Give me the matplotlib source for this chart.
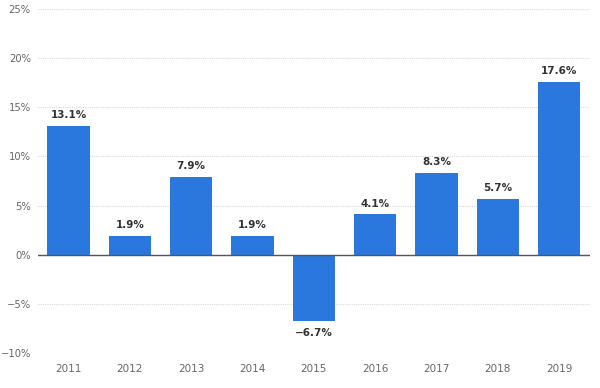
import matplotlib
matplotlib.use("Agg")
import matplotlib.pyplot as plt
from matplotlib.ticker import FuncFormatter

years = ["2011", "2012", "2013", "2014", "2015", "2016", "2017", "2018", "2019"]
growth = [13.1, 1.9, 7.9, 1.9, -6.7, 4.1, 8.3, 5.7, 17.6]

fig = plt.figure(figsize=(6, 3.88), dpi=100)
ax = fig.add_axes([0.063, 0.09, 0.92, 0.887])

x = range(len(years))
ax.bar(x, growth, width=0.69, color="#2a77de", zorder=3)
ax.axhline(0, color="#555555", linewidth=1, zorder=4)

for i, v in zip(x, growth):
    label = f"{v:.1f}%".replace("-", "\u2212")
    if v >= 0:
        ax.text(i, v + 0.6, label, ha="center", va="bottom", fontsize=7.5,
                color="#333333", fontweight="semibold")
    else:
        ax.text(i, v - 0.7, label, ha="center", va="top", fontsize=7.5,
                color="#333333", fontweight="semibold")

ax.set_xlim(-0.5, 8.5)
ax.set_ylim(-10, 25)
ax.set_yticks(range(-10, 26, 5))
ax.yaxis.set_major_formatter(FuncFormatter(lambda v, p: f"{int(v)}%".replace("-", "\u2212")))
ax.set_xticks(list(x))
ax.set_xticklabels(years)
ax.tick_params(axis="both", length=0, labelsize=7.5, colors="#666666")
ax.tick_params(axis="y", pad=5, labelsize=7.2)
ax.tick_params(axis="x", pad=8)
ax.grid(axis="y", color="#d9d9d9", linestyle=(0, (1, 1)), linewidth=0.8, zorder=0)
for s in ax.spines.values():
    s.set_visible(False)

fig.savefig("out.png", dpi=100)
